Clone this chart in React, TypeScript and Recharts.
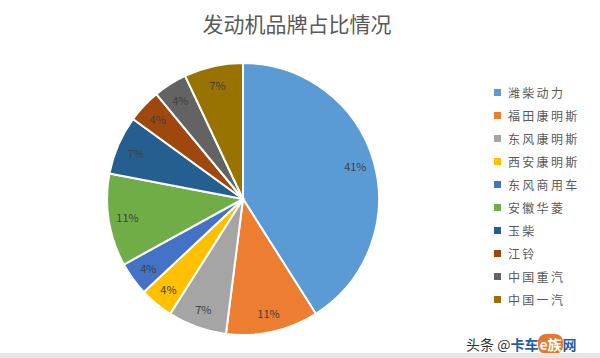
import React from "react";
import { PieChart, Pie, Cell, Legend } from "recharts";

const brands = ["潍柴动力", "福田康明斯", "东风康明斯", "西安康明斯", "东风商用车", "安徽华菱", "玉柴", "江铃", "中国重汽", "中国一汽"];
const shares = [41, 11, 7, 4, 4, 11, 7, 4, 4, 7];
const colors = ["#5B9BD5", "#ED7D31", "#A5A5A5", "#FFC000", "#4472C4", "#70AD47", "#255E91", "#9E480E", "#636363", "#997300"];
const title = "发动机品牌占比情况";

const data = brands.map((name, i) => ({ name, value: shares[i] }));

const FONT = '"Noto Sans CJK SC", "Noto Sans", sans-serif';
const RAD = Math.PI / 180;

const renderLabel = (props: any) => {
  const { cx, cy, midAngle, outerRadius, value } = props;
  const r = outerRadius * 0.86;
  const x = cx + r * Math.cos(-midAngle * RAD);
  const y = cy + r * Math.sin(-midAngle * RAD);
  return (
    <text x={x} y={y} fill="#404040" fontSize={11} fontFamily={FONT} textAnchor="middle" dominantBaseline="central">
      {`${value}%`}
    </text>
  );
};

const renderLegend = (props: any) => {
  const payload = [...(props.payload || [])].sort(
    (a: any, b: any) => brands.indexOf(a.value) - brands.indexOf(b.value)
  );
  return (
    <div style={{ fontFamily: FONT }}>
      {payload.map((p: any, i: number) => (
        <div key={i} style={{ display: "flex", alignItems: "center", height: 23 }}>
          <span style={{ display: "inline-block", width: 7, height: 7, background: p.color, marginRight: 7 }} />
          <span style={{ fontSize: 12, color: "#595959", letterSpacing: 2.3 }}>{p.value}</span>
        </div>
      ))}
    </div>
  );
};

export default function App() {
  return (
    <div style={{ position: "absolute", left: 0, top: 0, width: 600, height: 358, background: "#fff", overflow: "hidden" }}>
      <div style={{ position: "absolute", left: 0, top: 8, width: 594, textAlign: "center", fontFamily: FONT, fontSize: 21, color: "#595959" }}>
        {title}
      </div>
      <PieChart width={600} height={358} margin={{ top: 0, right: 0, bottom: 0, left: 0 }}>
        <Pie
          data={data}
          dataKey="value"
          nameKey="name"
          cx={243}
          cy={199}
          outerRadius={136}
          startAngle={90}
          endAngle={-270}
          stroke="#fff"
          strokeWidth={2}
          label={renderLabel}
          labelLine={false}
          isAnimationActive={false}
        >
          {data.map((d, i) => (
            <Cell key={d.name} fill={colors[i]} />
          ))}
        </Pie>
        <Legend
          layout="vertical"
          itemSorter={null as any}
          content={renderLegend}
          wrapperStyle={{ position: "absolute", left: 494, top: 81, width: 110 }}
        />
      </PieChart>
      <div style={{ position: "absolute", left: 466, top: 334, fontFamily: FONT, fontSize: 14, whiteSpace: "nowrap" }}>
        <span style={{ color: "#333" }}>头条 @</span>
        <span style={{ color: "#1f5fa6", fontWeight: 700 }}>卡车</span>
        <span style={{ color: "#fff", background: "#e8772e", borderRadius: 8, padding: "0 1px", fontWeight: 700 }}>e族</span>
        <span style={{ color: "#1f5fa6", fontWeight: 700 }}>网</span>
      </div>
      <div style={{ position: "absolute", left: 0, top: 353, width: 600, height: 5, background: "#e6e6e6" }} />
    </div>
  );
}
